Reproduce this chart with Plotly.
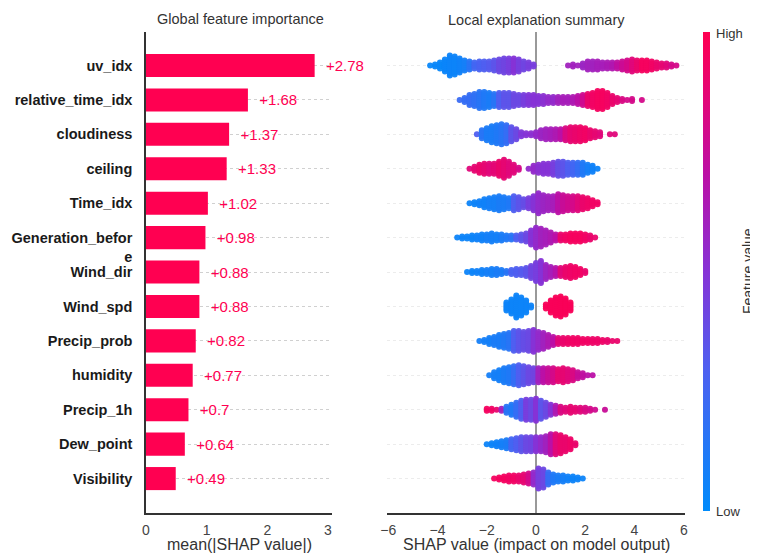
import plotly.graph_objects as go

# ---------------- data ----------------
features = ["uv_idx", "relative_time_idx", "cloudiness", "ceiling", "Time_idx",
            "\u00a0<br>Generation_befor<br>e", "Wind_dir", "Wind_spd", "Precip_prob",
            "humidity", "Precip_1h", "Dew_point", "Visibility"]
importance = [2.78, 1.68, 1.37, 1.33, 1.02, 0.98, 0.88, 0.88, 0.82, 0.77, 0.7, 0.64, 0.49]

# beeswarm: first bin centre (SHAP value), bin width 0.2,
# number of dots stacked in each bin, and feature value colour (0=low, 1=high)
bin_width = 0.2
uv_idx_start = -4.3
uv_idx_counts = [1, 2, 4, 7, 11, 10, 8, 6, 5, 4, 5, 5, 5, 6, 7, 8, 8, 8, 7, 5, 4, 2,
                 0, 0, 0, 0, 0, 0,
                 1, 2, 1, 3, 5, 5, 5, 4, 4, 4, 4, 5, 6, 7, 6, 6, 6, 5, 4, 3, 3, 2, 1]
uv_idx_colors = [0.03, 0.03, 0.03, 0.04, 0.05, 0.05, 0.06, 0.08,
                 0.15, 0.25, 0.28, 0.3, 0.32, 0.35,
                 0.4, 0.42, 0.45, 0.5, 0.45, 0.42, 0.45, 0.45,
                 0.5, 0.5, 0.5, 0.5, 0.5, 0.5,
                 0.6, 0.6, 0.6,
                 0.58, 0.6, 0.6, 0.62, 0.62, 0.64, 0.66,
                 0.72, 0.76, 0.8, 0.85, 0.9,
                 0.95, 0.95, 0.93, 0.9, 0.88,
                 0.85, 0.8, 0.8]

rel_time_start = -3.1
rel_time_counts = [1, 3, 6, 7, 9, 9, 8, 7, 8, 8, 8, 7, 6, 6, 6, 6, 5, 5, 4, 4, 4, 4, 4, 4,
                   5, 6, 7, 8, 10, 10, 8, 5, 3, 2, 1, 2, 0, 1]
rel_time_colors = [0.22, 0.2, 0.2, 0.18, 0.15, 0.12,
                   0.1, 0.15,
                   0.3, 0.35, 0.35, 0.4, 0.4, 0.45,
                   0.48, 0.5, 0.5, 0.52, 0.55, 0.55,
                   0.6, 0.62, 0.62, 0.65, 0.7, 0.78,
                   0.9, 0.93, 0.95, 0.95, 0.93, 0.9, 0.88,
                   0.82, 0.8, 0.8, 0.8, 0.8]

cloud_start = -2.4
cloud_counts = [1, 5, 7, 9, 10, 11, 10, 8, 6, 3, 2, 2, 3, 5, 6, 6, 6, 6, 7, 8, 8, 8, 7, 5,
                4, 3, 0, 1, 1]
cloud_colors = [0.3,
                0.15, 0.1, 0.1, 0.12, 0.15, 0.2,
                0.35, 0.4,
                0.48, 0.5, 0.52,
                0.55, 0.58, 0.6, 0.62, 0.65, 0.7,
                0.82, 0.88, 0.9, 0.92, 0.93, 0.9, 0.88, 0.85,
                0.85, 0.85, 0.85]

ceiling_start = -2.7
ceiling_counts = [1, 3, 5, 6, 6, 6, 8, 10, 8, 5, 2, 0, 1, 4, 5, 6, 6, 7, 8, 8, 7, 7, 7, 7,
                  5, 4, 1]
ceiling_colors = [0.85, 0.88, 0.9, 0.88, 0.85, 0.87, 0.9, 0.88, 0.85, 0.85, 0.8,
                  0.5,
                  0.55, 0.55, 0.52, 0.5, 0.5, 0.45,
                  0.38, 0.35, 0.3, 0.25, 0.2,
                  0.12, 0.08, 0.06, 0.05]

time_start = -2.7
time_counts = [1, 2, 3, 5, 6, 7, 8, 7, 6, 8, 7, 5, 6, 8, 11, 9, 8, 8, 10, 9, 8, 8, 8, 7,
               6, 4, 2]
time_colors = [0.05, 0.05, 0.06, 0.06, 0.08, 0.08, 0.1, 0.1, 0.12,
               0.3, 0.35, 0.38,
               0.45, 0.5, 0.55, 0.58, 0.6, 0.62,
               0.7, 0.75, 0.78, 0.8, 0.85,
               0.9, 0.92, 0.93, 0.93]

gen_start = -3.2
gen_counts = [1, 2, 2, 3, 3, 4, 4, 5, 4, 4, 3, 3, 3, 4, 5, 8, 11, 10, 8, 6, 4, 4, 4, 5,
              5, 5, 4, 3, 1]
gen_colors = [0.05, 0.05, 0.05, 0.05, 0.06, 0.06, 0.08, 0.08, 0.08, 0.1, 0.12, 0.15,
              0.3, 0.35, 0.4,
              0.5, 0.55, 0.6, 0.62, 0.65, 0.7,
              0.9, 0.93, 0.95, 0.95, 0.95, 0.93, 0.9, 0.9]

wdir_start = -2.8
wdir_counts = [1, 2, 2, 3, 3, 4, 4, 3, 2, 3, 4, 4, 5, 7, 10, 12, 8, 6, 5, 5, 6, 7, 6, 4, 2]
wdir_colors = [0.05, 0.05, 0.06, 0.06, 0.08, 0.08, 0.1, 0.1, 0.15,
               0.28, 0.3, 0.32, 0.35,
               0.42, 0.45, 0.5,
               0.58, 0.62, 0.68,
               0.85, 0.9, 0.92, 0.93, 0.93, 0.9]

wspd_start = -1.2
wspd_counts = [5, 8, 12, 10, 7, 2, 0, 0, 3, 7, 10, 11, 9, 5]
wspd_colors = [0.05, 0.05, 0.05, 0.05, 0.05, 0.05, 0.5, 0.5,
               0.97, 0.97, 0.97, 0.97, 0.97, 0.97]

pprob_start = -2.3
pprob_counts = [1, 2, 4, 5, 7, 8, 9, 11, 11, 10, 11, 12, 10, 9, 7, 5, 4, 4, 4, 4, 4, 3, 3,
                3, 3, 2, 2, 1, 1]
pprob_colors = [0.08, 0.08, 0.08, 0.1, 0.1, 0.12, 0.15,
                0.3, 0.35, 0.38, 0.4,
                0.5, 0.55, 0.6, 0.65, 0.7,
                0.85, 0.9, 0.92, 0.93, 0.93, 0.93, 0.93, 0.92, 0.92, 0.92, 0.9, 0.9, 0.9]

hum_start = -1.9
hum_counts = [1, 4, 6, 8, 9, 10, 11, 10, 9, 8, 8, 8, 8, 8, 7, 8, 7, 6, 4, 3, 1, 1]
hum_colors = [0.08, 0.08, 0.08, 0.1, 0.12, 0.2,
              0.3, 0.35, 0.4, 0.42,
              0.6, 0.7, 0.75, 0.8,
              0.88, 0.88, 0.85, 0.82,
              0.75, 0.72, 0.7, 0.7]

p1h_start = -2.0
p1h_counts = [2, 2, 1, 2, 4, 6, 8, 10, 11, 11, 12, 10, 8, 6, 5, 4, 3, 4, 3, 3, 3, 2, 1, 0, 1]
p1h_colors = [0.95, 0.93, 0.9, 0.6,
              0.15, 0.12, 0.2, 0.3,
              0.45, 0.4, 0.5, 0.35,
              0.4, 0.5, 0.65,
              0.82, 0.85, 0.88, 0.88, 0.85, 0.82, 0.8, 0.78, 0.75, 0.75]

dew_start = -2.0
dew_counts = [1, 2, 3, 4, 5, 6, 7, 8, 8, 8, 8, 8, 9, 11, 11, 10, 8, 6, 2]
dew_colors = [0.05, 0.05, 0.06, 0.08, 0.1,
              0.25, 0.3, 0.35, 0.4, 0.42,
              0.5, 0.55, 0.6, 0.7,
              0.85, 0.9, 0.9, 0.92, 0.9]

vis_start = -1.7
vis_counts = [1, 2, 3, 4, 4, 4, 5, 6, 7, 11, 10, 7, 5, 4, 4, 3, 3, 2, 1]
vis_colors = [0.95, 0.95, 0.95, 0.93, 0.93, 0.9, 0.88, 0.8,
              0.55, 0.45, 0.4,
              0.2, 0.12, 0.1, 0.08, 0.06, 0.05, 0.05, 0.05]

swarm_starts = [uv_idx_start, rel_time_start, cloud_start, ceiling_start, time_start,
                gen_start, wdir_start, wspd_start, pprob_start, hum_start, p1h_start,
                dew_start, vis_start]
swarm_counts = [uv_idx_counts, rel_time_counts, cloud_counts, ceiling_counts, time_counts,
                gen_counts, wdir_counts, wspd_counts, pprob_counts, hum_counts, p1h_counts,
                dew_counts, vis_counts]
swarm_colors = [uv_idx_colors, rel_time_colors, cloud_colors, ceiling_colors, time_colors,
                gen_colors, wdir_colors, wspd_colors, pprob_colors, hum_colors, p1h_colors,
                dew_colors, vis_colors]

x_ticks_left = [0, 1, 2, 3]
x_ticks_right = [-6, -4, -2, 0, 2, 4, 6]

# ---------------- build ----------------
n = len(features)
rows = [n - 1 - k for k in range(n)]  # top row gets the largest y

RED = "#ff0051"
colorscale = [[0.0, "#008bfb"], [0.3, "#4f5ff0"], [0.5, "#8633d6"],
              [0.7, "#bb10a6"], [0.85, "#e0077a"], [1.0, "#ff0051"]]

pitch = 0.058  # vertical dot pitch in row units
sx, sy, sc = [], [], []
for k in range(n):
    for i, (cnt, col) in enumerate(zip(swarm_counts[k], swarm_colors[k])):
        xv = swarm_starts[k] + bin_width * i
        for j in range(cnt):
            sx.append(xv)
            sy.append(rows[k] + (j - (cnt - 1) / 2) * pitch)
            sc.append(col)

OX, OY = 8, 8   # the page places the figure 8px in from the top-left
W, H = 758 - OX, 556 - OY


def px(x):
    return (x - OX) / W


def py(y):
    return 1 - (y - OY) / H


font_fam = "Liberation Sans, Arial, sans-serif"

fig = go.Figure()

fig.add_trace(go.Bar(
    x=importance, y=rows, orientation="h", width=0.67,
    marker=dict(color=RED, line=dict(width=0)),
    text=["+" + str(v) for v in importance], textposition="outside",
    texttemplate="  %{text}",
    textfont=dict(color=RED, size=15, family=font_fam),
    cliponaxis=False, constraintext="none",
    xaxis="x", yaxis="y", showlegend=False, hoverinfo="skip"))

fig.add_trace(go.Scatter(
    x=sx, y=sy, mode="markers",
    marker=dict(size=6, color=sc, colorscale=colorscale, cmin=0, cmax=1,
                line=dict(width=0), opacity=0.95,
                showscale=True,
                colorbar=dict(thickness=7, lenmode="pixels", len=479,
                              x=px(703), xanchor="left", xpad=0, ypad=0,
                              y=py(271.5), yanchor="middle", outlinewidth=0,
                              showticklabels=False, ticks="")),
    xaxis="x2", yaxis="y2", showlegend=False, hoverinfo="skip"))

ydom = [py(513), py(32)]
yrange = [-1.0, 12.973]

fig.update_layout(
    template="none",
    width=W, height=H, margin=dict(l=0, r=0, t=0, b=0, autoexpand=False),
    paper_bgcolor="white", plot_bgcolor="white",
    font=dict(family=font_fam, color="#333"),
    xaxis=dict(domain=[px(146), px(332)], range=[0, 3.066], tickvals=x_ticks_left,
               showgrid=False, zeroline=False, showline=True, linecolor="#333",
               linewidth=1.5, ticks="", ticklabelstandoff=3, automargin=False,
               tickfont=dict(size=14, color="#444"), anchor="y"),
    yaxis=dict(domain=ydom, range=yrange, tickvals=rows, ticktext=features,
               showgrid=True, gridcolor="#d0d0d0", griddash="dot", gridwidth=1,
               zeroline=False, showline=True, linecolor="#333", linewidth=1.5,
               ticks="", ticklabelstandoff=9, automargin=False,
               tickfont=dict(size=14.5, color="#1a1a1a", weight="bold"),
               anchor="x"),
    xaxis2=dict(domain=[px(387), px(685)], range=[-6.05, 6.05], tickvals=x_ticks_right,
                ticktext=["\u22126", "\u22124", "\u22122", "0", "2", "4", "6"],
                showgrid=False, zeroline=True, zerolinecolor="#999", zerolinewidth=1.8,
                showline=True, linecolor="#333", linewidth=1.5, ticks="",
                ticklabelstandoff=3, automargin=False,
                tickfont=dict(size=14, color="#444"), anchor="y2"),
    yaxis2=dict(domain=ydom, range=yrange, tickvals=rows, showticklabels=False,
                showgrid=True, gridcolor="#ececec", griddash="dot", gridwidth=1,
                zeroline=False, showline=False, automargin=False, anchor="x2"),
    annotations=[
        dict(text="Global feature importance", x=px(240), y=py(19), xref="paper",
             yref="paper", xanchor="center", yanchor="middle", showarrow=False,
             font=dict(size=14.5, color="#333")),
        dict(text="Local explanation summary", x=px(536), y=py(20), xref="paper",
             yref="paper", xanchor="center", yanchor="middle", showarrow=False,
             font=dict(size=14.5, color="#333")),
        dict(text="mean(|SHAP value|)", x=px(239), y=py(544), xref="paper",
             yref="paper", xanchor="center", yanchor="middle", showarrow=False,
             font=dict(size=16, color="#333")),
        dict(text="SHAP value (impact on model output)", x=px(536), y=py(544),
             xref="paper", yref="paper", xanchor="center", yanchor="middle",
             showarrow=False, font=dict(size=16, color="#333")),
        dict(text="High", x=px(714), y=py(33), xref="paper", yref="paper",
             xanchor="left", yanchor="middle", showarrow=False,
             font=dict(size=13, color="#333")),
        dict(text="Low", x=px(714), y=py(511), xref="paper", yref="paper",
             xanchor="left", yanchor="middle", showarrow=False,
             font=dict(size=13, color="#333")),
        dict(text="Feature value", x=px(748), y=py(271), xref="paper", yref="paper",
             xanchor="center", yanchor="middle", textangle=-90, showarrow=False,
             font=dict(size=14, color="#333")),
    ],
)

fig.write_html("out.html")
